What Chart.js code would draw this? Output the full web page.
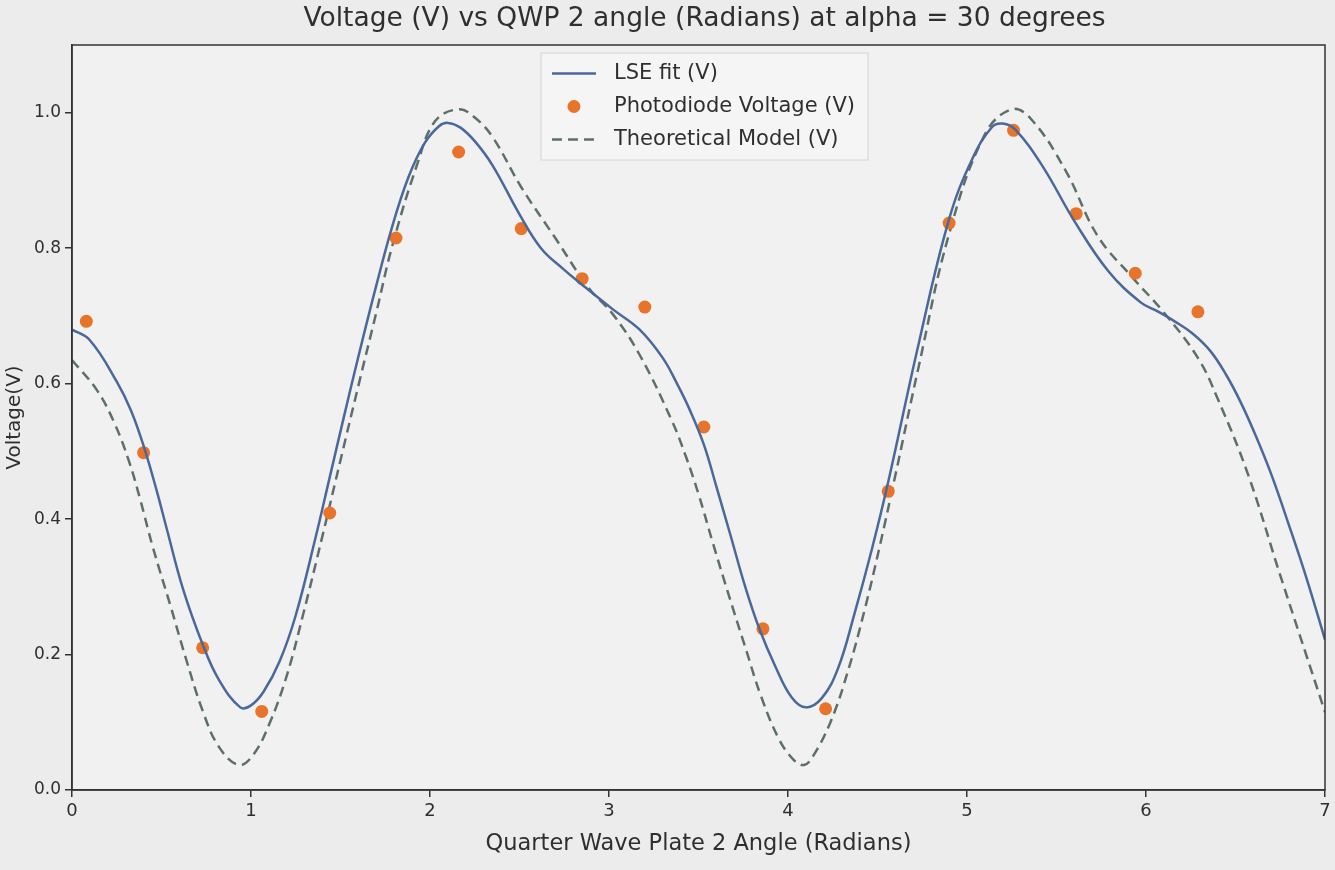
<!DOCTYPE html>
<html>
<head>
<meta charset="utf-8">
<title>Voltage vs QWP 2 angle</title>
<script src="https://cdn.jsdelivr.net/npm/chart.js@4.4.1/dist/chart.umd.min.js"></script>
<style>
    html, body { margin: 0; padding: 0; background: #ececec; }
    #wrap { width: 1335px; height: 870px; }
</style>
</head>
<body>
<div id="wrap"><canvas id="voltageChart" width="1335" height="870"></canvas></div>
<script>
const chartTitle = 'Voltage (V) vs QWP 2 angle (Radians) at alpha = 30 degrees';

// Photodiode readings (angle in radians, voltage in V)
const angleData = [0.08, 0.40, 0.73, 1.06, 1.44, 1.81, 2.16, 2.51, 2.85, 3.20, 3.53, 3.86, 4.21, 4.56, 4.90, 5.26, 5.61, 5.94, 6.29];
const voltageData = [0.692, 0.498, 0.210, 0.116, 0.409, 0.815, 0.942, 0.829, 0.755, 0.713, 0.536, 0.238, 0.120, 0.441, 0.837, 0.974, 0.851, 0.763, 0.706];

// LSE fit curve
const fitAngles = [0.00, 0.10, 0.25, 0.33, 0.40, 0.47, 0.53, 0.62, 0.73, 0.82, 0.94, 1.00, 1.07, 1.16, 1.25, 1.36, 1.44, 1.52, 1.60, 1.70, 1.79, 1.88, 1.97, 2.05, 2.10, 2.17, 2.25, 2.35, 2.50, 2.62, 2.75, 2.85, 3.02, 3.17, 3.30, 3.38, 3.45, 3.53, 3.60, 3.68, 3.76, 3.84, 3.93, 4.02, 4.10, 4.19, 4.28, 4.37, 4.47, 4.56, 4.73, 4.90, 5.03, 5.14, 5.20, 5.27, 5.42, 5.60, 5.79, 5.97, 6.07, 6.16, 6.26, 6.36, 6.45, 6.53, 6.61, 6.70, 6.80, 6.90, 7.00];
const fitVolts = [0.680, 0.664, 0.603, 0.560, 0.508, 0.445, 0.385, 0.297, 0.215, 0.163, 0.122, 0.125, 0.145, 0.190, 0.258, 0.372, 0.462, 0.552, 0.640, 0.745, 0.833, 0.905, 0.955, 0.980, 0.985, 0.978, 0.958, 0.922, 0.850, 0.800, 0.768, 0.746, 0.710, 0.680, 0.638, 0.600, 0.562, 0.510, 0.448, 0.375, 0.301, 0.238, 0.182, 0.137, 0.122, 0.136, 0.180, 0.259, 0.357, 0.455, 0.659, 0.843, 0.932, 0.979, 0.984, 0.975, 0.922, 0.840, 0.766, 0.720, 0.706, 0.692, 0.674, 0.648, 0.612, 0.572, 0.525, 0.466, 0.390, 0.310, 0.222];

// Theoretical model curve
const modelAngles = [0.00, 0.14, 0.24, 0.32, 0.38, 0.45, 0.55, 0.64, 0.73, 0.82, 0.93, 1.01, 1.10, 1.20, 1.29, 1.40, 1.50, 1.60, 1.70, 1.79, 1.93, 2.03, 2.16, 2.25, 2.35, 2.51, 2.70, 2.89, 3.02, 3.17, 3.35, 3.43, 3.50, 3.58, 3.67, 3.76, 3.85, 3.95, 4.03, 4.09, 4.14, 4.24, 4.34, 4.43, 4.51, 4.60, 4.73, 4.90, 5.10, 5.25, 5.36, 5.55, 5.73, 5.92, 6.10, 6.29, 6.40, 6.57, 6.75, 7.00];
const modelVolts = [0.635, 0.590, 0.540, 0.484, 0.430, 0.360, 0.272, 0.191, 0.117, 0.064, 0.037, 0.051, 0.096, 0.169, 0.258, 0.376, 0.487, 0.597, 0.705, 0.804, 0.925, 0.988, 1.005, 0.993, 0.964, 0.890, 0.815, 0.740, 0.703, 0.643, 0.546, 0.492, 0.437, 0.365, 0.287, 0.212, 0.138, 0.075, 0.045, 0.037, 0.050, 0.102, 0.180, 0.268, 0.357, 0.465, 0.625, 0.821, 0.968, 1.005, 0.990, 0.915, 0.818, 0.758, 0.705, 0.638, 0.578, 0.466, 0.317, 0.115];

const xTickLabels = [0, 1, 2, 3, 4, 5, 6, 7];
const yTickLabels = [0.0, 0.2, 0.4, 0.6, 0.8, 1.0];

const FONT = '"DejaVu Sans", "Liberation Sans", sans-serif';
const INK = '#2f2f2f';

function toPoints(xs, ys) {
    return xs.map((x, i) => ({ x: x, y: ys[i] }));
}

// plot background, frame (all four spines) and the title centred over the axes
const frame = {
    id: 'frame',
    beforeDraw(chart) {
        const { ctx, chartArea } = chart;
        ctx.save();
        ctx.fillStyle = '#f1f1f1';
        ctx.fillRect(chartArea.left, chartArea.top, chartArea.width, chartArea.height);
        ctx.restore();
    },
    afterDraw(chart) {
        const { ctx, chartArea } = chart;
        ctx.save();
        ctx.strokeStyle = '#333';
        ctx.lineWidth = 1.5;
        ctx.strokeRect(chartArea.left, chartArea.top, chartArea.width, chartArea.height);

        ctx.fillStyle = INK;
        ctx.font = '26.5px ' + FONT;
        ctx.textAlign = 'center';
        ctx.textBaseline = 'middle';
        ctx.fillText(chartTitle, (chartArea.left + chartArea.right) / 2 + 6, 19);
        ctx.restore();
    }
};

// matplotlib style legend inside the axes, upper centre
const insideLegend = {
    id: 'insideLegend',
    afterDraw(chart) {
        const { ctx, chartArea } = chart;
        const sets = chart.data.datasets;
        ctx.save();
        ctx.font = '21px ' + FONT;
        const textW = Math.max(...sets.map(d => ctx.measureText(d.label).width));
        const rowH = 33, sampleW = 44, gap = 18, pad = 11;
        const boxW = pad + sampleW + gap + textW + pad + 2;
        const boxH = rowH * sets.length + 8;
        const left = chartArea.left + (chartArea.width - boxW) / 2 + 6;
        const top = chartArea.top + 8;

        ctx.fillStyle = 'rgba(246,246,246,0.85)';
        ctx.strokeStyle = '#d4d4d4';
        ctx.lineWidth = 1;
        ctx.fillRect(left, top, boxW, boxH);
        ctx.strokeRect(left, top, boxW, boxH);

        sets.forEach((d, i) => {
            const cy = top + 4 + rowH * i + rowH / 2;
            const sx = left + pad;
            if (d.showLine === false) {
                ctx.beginPath();
                ctx.fillStyle = d.backgroundColor;
                ctx.arc(sx + sampleW / 2, cy, d.pointRadius, 0, Math.PI * 2);
                ctx.fill();
            } else {
                ctx.beginPath();
                ctx.strokeStyle = d.borderColor;
                ctx.lineWidth = d.borderWidth;
                ctx.setLineDash(d.borderDash || []);
                ctx.moveTo(sx, cy);
                ctx.lineTo(sx + sampleW, cy);
                ctx.stroke();
                ctx.setLineDash([]);
            }
            ctx.fillStyle = INK;
            ctx.textBaseline = 'middle';
            ctx.textAlign = 'left';
            ctx.fillText(d.label, sx + sampleW + gap, cy);
        });
        ctx.restore();
    }
};

const ctx = document.getElementById('voltageChart').getContext('2d');
new Chart(ctx, {
    type: 'line',
    data: {
        datasets: [
            {
                label: 'LSE fit (V)',
                data: toPoints(fitAngles, fitVolts),
                borderColor: '#4a6899',
                borderWidth: 2.5,
                pointRadius: 0,
                tension: 0.4,
                fill: false
            },
            {
                label: 'Photodiode Voltage (V)',
                data: toPoints(angleData, voltageData),
                showLine: false,
                pointRadius: 6.5,
                pointBorderWidth: 0,
                backgroundColor: '#e8742c',
                borderColor: '#e8742c'
            },
            {
                label: 'Theoretical Model (V)',
                data: toPoints(modelAngles, modelVolts),
                borderColor: '#5e6f6b',
                borderWidth: 2.5,
                borderDash: [10, 6],
                pointRadius: 0,
                tension: 0.4,
                fill: false
            }
        ]
    },
    options: {
        responsive: false,
        animation: false,
        layout: { padding: { top: 45, right: 10, bottom: 0, left: 0 } },
        plugins: {
            legend: { display: false },
            tooltip: { enabled: false },
            title: { display: false }
        },
        scales: {
            x: {
                type: 'linear',
                min: 0,
                max: 7,
                afterBuildTicks: axis => { axis.ticks = xTickLabels.map(v => ({ value: v })); },
                afterFit: scale => { scale.height = 80; },
                grid: { drawOnChartArea: false, drawTicks: true, tickLength: 7, color: '#333', lineWidth: 1.5 },
                border: { display: true, color: '#333', width: 1.5 },
                ticks: { color: INK, padding: 4, font: { family: FONT, size: 18 }, callback: v => String(v) },
                title: {
                    display: true,
                    text: 'Quarter Wave Plate 2 Angle (Radians)',
                    color: INK,
                    font: { family: FONT, size: 22.5 },
                    padding: { top: 4, bottom: 12 }
                }
            },
            y: {
                type: 'linear',
                min: 0,
                max: 1.1,
                afterBuildTicks: axis => { axis.ticks = yTickLabels.map(v => ({ value: v })); },
                afterFit: scale => { scale.width = 72; },
                grid: { drawOnChartArea: false, drawTicks: true, tickLength: 7, color: '#333', lineWidth: 1.5 },
                border: { display: true, color: '#333', width: 1.5 },
                ticks: { color: INK, padding: 4, font: { family: FONT, size: 17 }, callback: v => Number(v).toFixed(1) },
                title: {
                    display: true,
                    text: 'Voltage(V)',
                    color: INK,
                    font: { family: FONT, size: 20 },
                    padding: { top: 3, bottom: 2 }
                }
            }
        }
    },
    plugins: [frame, insideLegend]
});
</script>
</body>
</html>
